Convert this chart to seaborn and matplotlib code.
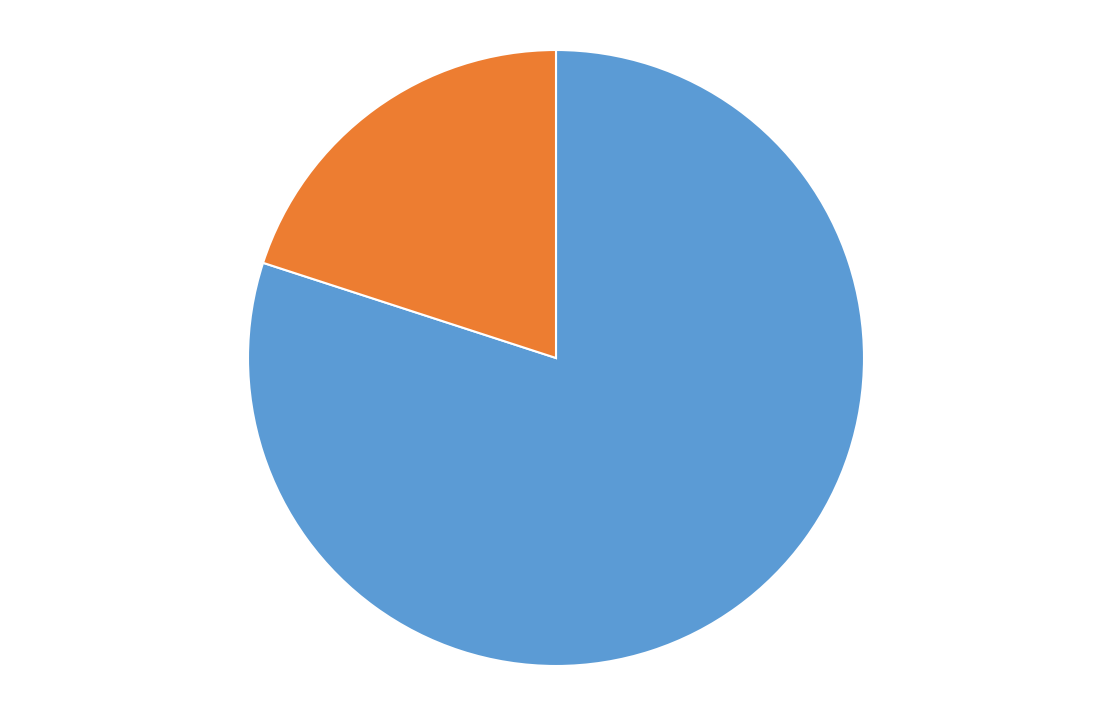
import matplotlib
matplotlib.use("Agg")
import matplotlib.pyplot as plt
import seaborn as sns

# slice data (no labels shown in the chart)
categories = ["A", "B"]
values = [80, 20]
colors = ["#5B9BD5", "#ED7D31"]

sns.set_style("white")

fig = plt.figure(figsize=(11.12, 7.13), dpi=100)
ax = fig.add_axes([0, 0, 1, 1])

ax.pie(values, colors=colors, startangle=90, counterclock=False,
       radius=1.0, center=(0, 0),
       wedgeprops=dict(edgecolor="white", linewidth=1.5))

# place pie: center at (556, 358) px from top-left, radius ~308 px
r_px = 308
ax.set_xlim(-556 / r_px, (1112 - 556) / r_px)
ax.set_ylim(-(713 - 358) / r_px, 358 / r_px)
ax.set_aspect("auto")
ax.axis("off")

fig.savefig("out.png", dpi=100, facecolor="white")
